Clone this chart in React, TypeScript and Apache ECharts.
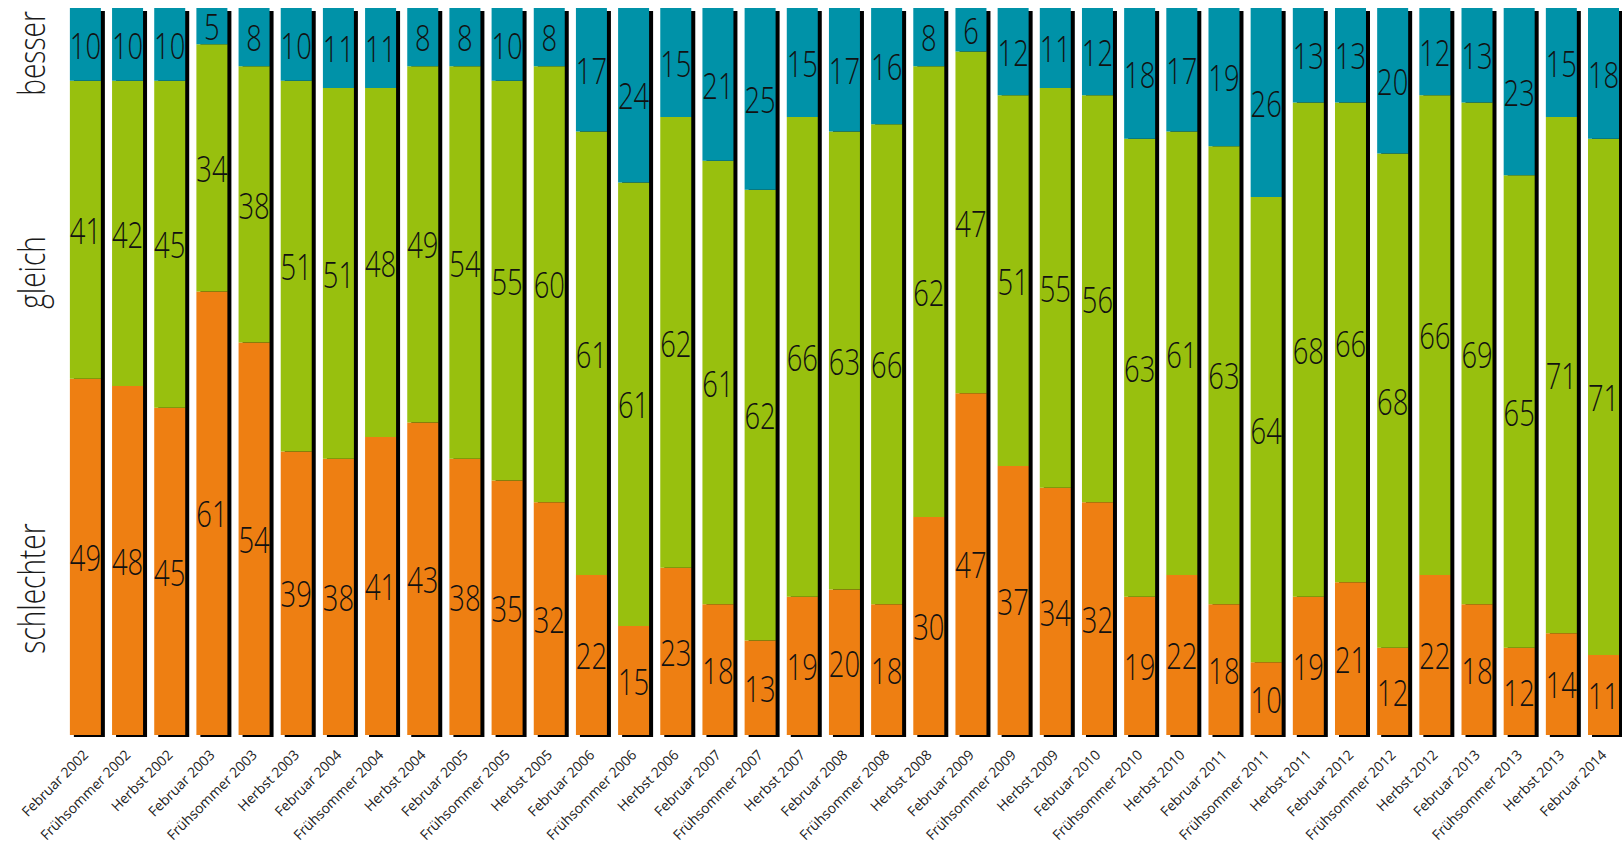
import React, { useEffect, useRef } from "react";
import * as echarts from "echarts";

const categories = [
  "Februar 2002", "Frühsommer 2002", "Herbst 2002",
  "Februar 2003", "Frühsommer 2003", "Herbst 2003",
  "Februar 2004", "Frühsommer 2004", "Herbst 2004",
  "Februar 2005", "Frühsommer 2005", "Herbst 2005",
  "Februar 2006", "Frühsommer 2006", "Herbst 2006",
  "Februar 2007", "Frühsommer 2007", "Herbst 2007",
  "Februar 2008", "Frühsommer 2008", "Herbst 2008",
  "Februar 2009", "Frühsommer 2009", "Herbst 2009",
  "Februar 2010", "Frühsommer 2010", "Herbst 2010",
  "Februar 2011", "Frühsommer 2011", "Herbst 2011",
  "Februar 2012", "Frühsommer 2012", "Herbst 2012",
  "Februar 2013", "Frühsommer 2013", "Herbst 2013",
  "Februar 2014",
];

const besser = [10, 10, 10, 5, 8, 10, 11, 11, 8, 8, 10, 8, 17, 24, 15, 21, 25, 15, 17, 16, 8, 6, 12, 11, 12, 18, 17, 19, 26, 13, 13, 20, 12, 13, 23, 15, 18];
const gleich = [41, 42, 45, 34, 38, 51, 51, 48, 49, 54, 55, 60, 61, 61, 62, 61, 62, 66, 63, 66, 62, 47, 51, 55, 56, 63, 61, 63, 64, 68, 66, 68, 66, 69, 65, 71, 71];
const schlechter = [49, 48, 45, 61, 54, 39, 38, 41, 43, 38, 35, 32, 22, 15, 23, 18, 13, 19, 20, 18, 30, 47, 37, 34, 32, 19, 22, 18, 10, 19, 21, 12, 22, 18, 12, 14, 11];

const seriesNames = ["schlechter", "gleich", "besser"];
const seriesColors = ["#EE7F12", "#98C00E", "#0092A8"];

const BAR_W = 31;
const FONT = '"Open Sans", "Noto Sans", sans-serif';

export default function App() {
  const ref = useRef<HTMLDivElement>(null);

  useEffect(() => {
    if (!ref.current) return;
    const chart = echarts.init(ref.current, null, { renderer: "svg" });
    const totals = categories.map((_, i) => besser[i] + gleich[i] + schlechter[i]);
    const mkBar = (name: string, data: number[], color: string) => ({
      name,
      type: "bar",
      stack: "all",
      barWidth: BAR_W,
      data,
      z: 3,
      itemStyle: { color },
      emphasis: { disabled: true },
    });
    const numText = (x: number, y: number, v: number) => ({
      type: "text",
      x,
      y,
      scaleX: 0.74,
      style: {
        text: String(v),
        fontSize: 37,
        fontFamily: FONT,
        fontWeight: 300,
        fill: "#111",
        align: "center",
        verticalAlign: "middle",
      },
    });
    chart.setOption({
      animation: false,
      grid: { left: 64.3, top: 8, width: 1560.3, height: 727, outerBoundsMode: "none" },
      xAxis: {
        type: "category",
        data: categories,
        axisLine: { show: false },
        axisTick: { show: false },
        axisLabel: {
          rotate: 45,
          interval: 0,
          margin: 17,
          fontSize: 14,
          fontFamily: FONT,
          color: "#222",
        },
      },
      yAxis: { type: "value", min: 0, max: 100, show: false },
      series: [
        {
          name: "shadow",
          type: "custom",
          z: 1,
          silent: true,
          data: categories.map((_, i) => [i, totals[i]]),
          renderItem: (params: any, api: any) => {
            const i = api.value(0);
            const top = api.coord([i, api.value(1)]);
            const bot = api.coord([i, 0]);
            return {
              type: "rect",
              shape: {
                x: top[0] - BAR_W / 2 + 4,
                y: top[1] + 3,
                width: BAR_W,
                height: bot[1] - top[1] - 1,
              },
              style: { fill: "#000" },
            };
          },
        },
        mkBar(seriesNames[0], schlechter, seriesColors[0]),
        mkBar(seriesNames[1], gleich, seriesColors[1]),
        mkBar(seriesNames[2], besser, seriesColors[2]),
        {
          name: "labels",
          type: "custom",
          z: 5,
          silent: true,
          encode: { x: 0, y: [1, 2, 3] },
          data: categories.map((_, i) => [i, schlechter[i], gleich[i], besser[i]]),
          renderItem: (params: any, api: any) => {
            const i = api.value(0);
            const s = api.value(1);
            const g = api.value(2);
            const b = api.value(3);
            const p0 = api.coord([i, 0]);
            const p1 = api.coord([i, s]);
            const p2 = api.coord([i, s + g]);
            const p3 = api.coord([i, s + g + b]);
            const x = p0[0];
            return {
              type: "group",
              children: [
                numText(x, (p0[1] + p1[1]) / 2, s),
                numText(x, (p1[1] + p2[1]) / 2, g),
                numText(x, (p2[1] + p3[1]) / 2, b),
              ],
            };
          },
        },
      ],
      graphic: [
        { t: "besser", y: 53.5 },
        { t: "gleich", y: 272.5 },
        { t: "schlechter", y: 588.5 },
      ].map((g) => ({
        type: "text",
        x: 30.6,
        y: g.y,
        rotation: Math.PI / 2,
        scaleX: 0.78,
        style: {
          text: g.t,
          fontSize: 36,
          fontFamily: FONT,
          fontWeight: 300,
          fill: "#1a1a1a",
          align: "center",
          verticalAlign: "middle",
        },
      })),
    });
    return () => chart.dispose();
  }, []);

  return (
    <div
      ref={ref}
      style={{ position: "fixed", left: 0, top: 0, width: 1622, height: 846, background: "#fff" }}
    />
  );
}
